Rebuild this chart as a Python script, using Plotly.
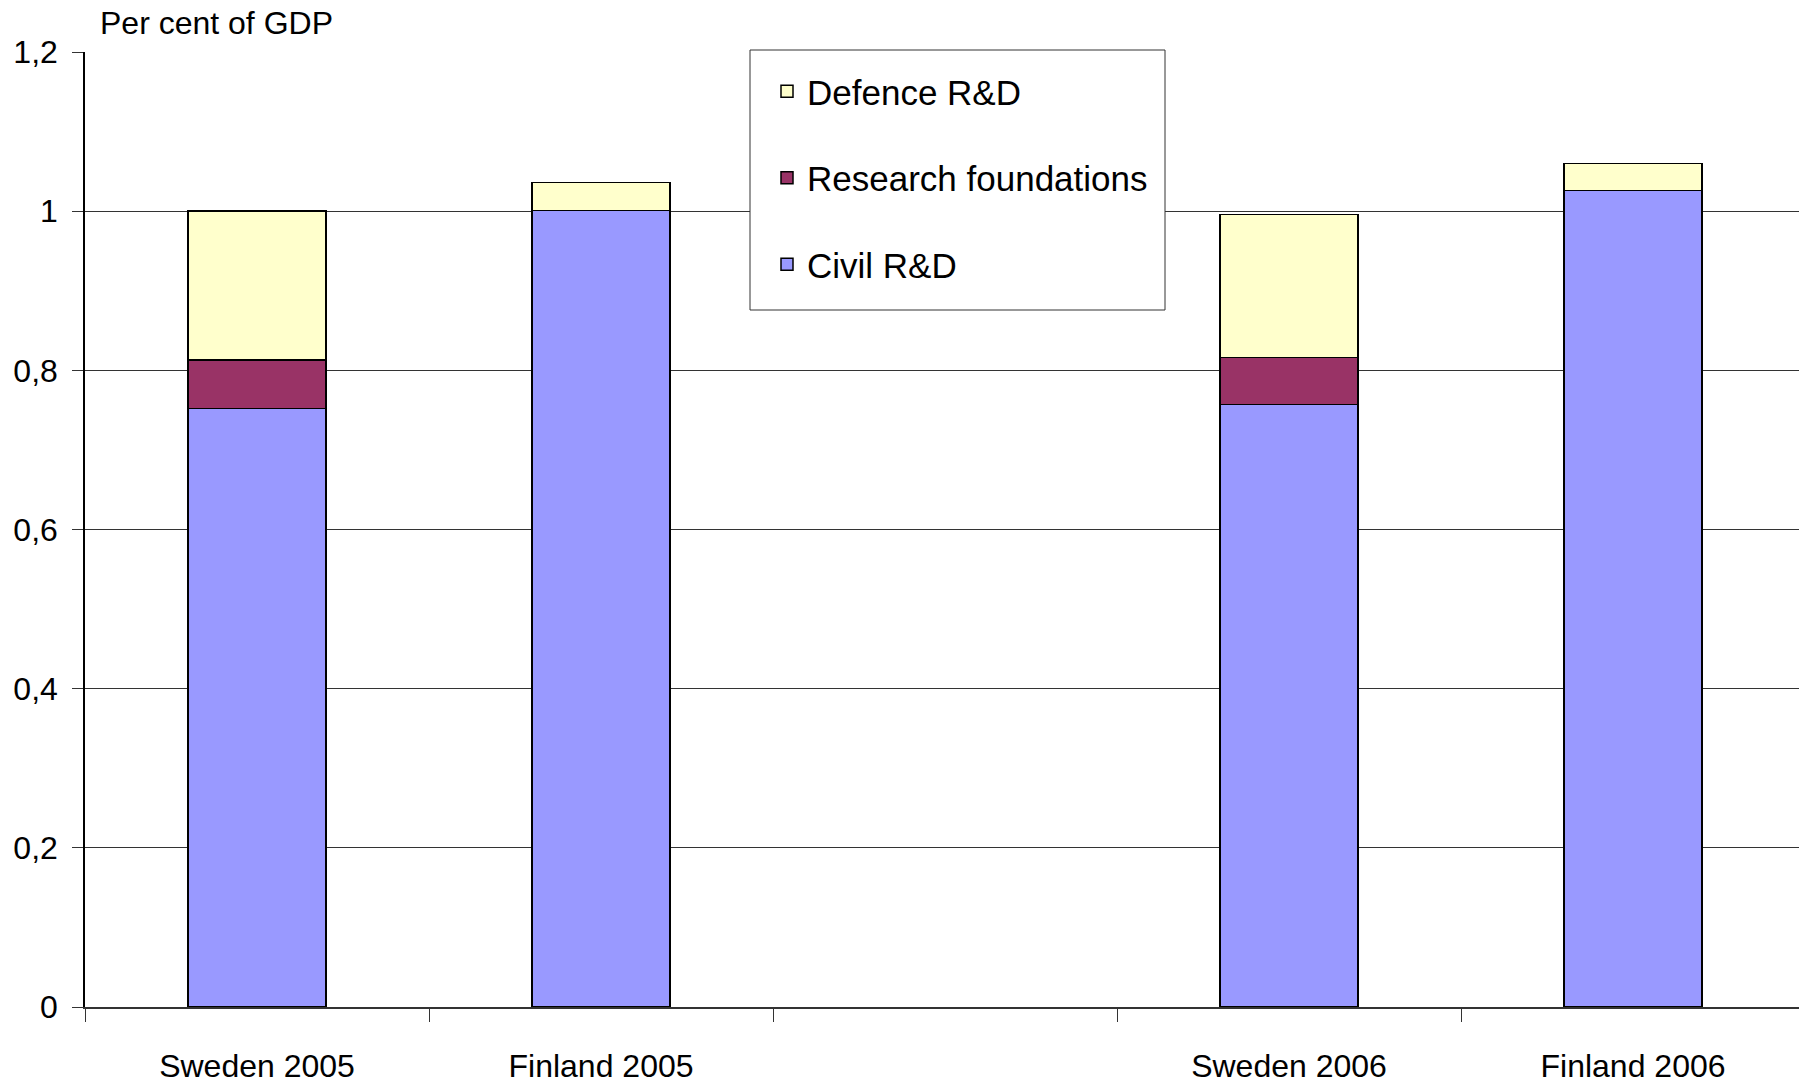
import plotly.graph_objects as go

# Categories (the blank slot separates the two years)
categories = ["Sweden 2005", "Finland 2005", " ", "Sweden 2006", "Finland 2006"]

# Shares of GDP by financing source
civil_rd = [0.752, 1.001, None, 0.757, 1.026]
research_foundations = [0.061, 0.0, None, 0.059, 0.0]
defence_rd = [0.187, 0.035, None, 0.180, 0.034]

y_tick_values = [0, 0.2, 0.4, 0.6, 0.8, 1.0, 1.2]
y_tick_labels = ["0", "0,2", "0,4", "0,6", "0,8", "1", "1,2"]

FONT = "Liberation Sans, Arial, sans-serif"

# Page geometry (pixels)
W, H = 1799, 1083
PLOT_L, PLOT_T, PLOT_B = 85, 52, 1007
PLOT_W = W - PLOT_L
PLOT_H = PLOT_B - PLOT_T


def px_x(px):
    return (px - PLOT_L) / PLOT_W


def px_y(py):
    return (PLOT_B - py) / PLOT_H


# (name, values, fill colour, legend position)
series = [
    ("Civil R&D", civil_rd, "#9999FF", 3),
    ("Research foundations", research_foundations, "#993366", 2),
    ("Defence R&D", defence_rd, "#FFFFCC", 1),
]

fig = go.Figure()
for name, values, color, rank in series:
    fig.add_trace(go.Bar(
        x=categories,
        y=values,
        name=name,
        legendgroup=name,
        legendrank=rank,
        width=0.4,
        marker=dict(color=color, line=dict(color="#000000", width=1.5)),
    ))

fig.update_layout(
    barmode="stack",
    width=W,
    height=H,
    margin=dict(l=PLOT_L, r=0, t=PLOT_T, b=H - PLOT_B),
    paper_bgcolor="white",
    plot_bgcolor="white",
    font=dict(family=FONT, size=32, color="#000000"),
    showlegend=True,
    legend=dict(
        traceorder="grouped",
        tracegroupgap=38,
        x=px_x(767),
        y=px_y(62),
        xanchor="left",
        yanchor="top",
        bgcolor="rgba(0,0,0,0)",
        borderwidth=0,
        font=dict(family=FONT, size=35, color="#000000"),
        itemwidth=30,
    ),
    # legend frame
    shapes=[dict(
        type="rect", xref="paper", yref="paper",
        x0=px_x(750), x1=px_x(1165), y0=px_y(310), y1=px_y(50),
        fillcolor="white", line=dict(color="#333333", width=1),
        layer="above",
    )],
    xaxis=dict(
        type="category",
        categoryorder="array",
        categoryarray=categories,
        range=[-0.5, PLOT_W / 344 - 0.5],
        tickson="boundaries",
        ticks="outside",
        ticklen=13,
        tickcolor="#333333",
        tickwidth=1,
        showline=True,
        linecolor="#333333",
        linewidth=2,
        showgrid=False,
        ticklabelstandoff=30,
        tickfont=dict(family=FONT, size=32, color="#000000"),
        fixedrange=True,
    ),
    yaxis=dict(
        range=[0, 1.2],
        tickvals=y_tick_values,
        ticktext=y_tick_labels,
        ticks="outside",
        ticklen=11,
        tickcolor="#333333",
        tickwidth=1,
        showline=True,
        linecolor="#000000",
        linewidth=1.5,
        showgrid=True,
        gridcolor="#333333",
        gridwidth=1,
        zeroline=False,
        ticklabelstandoff=8,
        tickfont=dict(family=FONT, size=32, color="#000000"),
        fixedrange=True,
    ),
    annotations=[dict(
        text="Per cent of GDP",
        xref="paper", yref="paper",
        x=px_x(98),
        y=1 + (PLOT_T - 23) / PLOT_H,
        xanchor="left", yanchor="middle",
        showarrow=False,
        font=dict(family=FONT, size=32, color="#000000"),
    )],
)

fig.write_html("out.html")
